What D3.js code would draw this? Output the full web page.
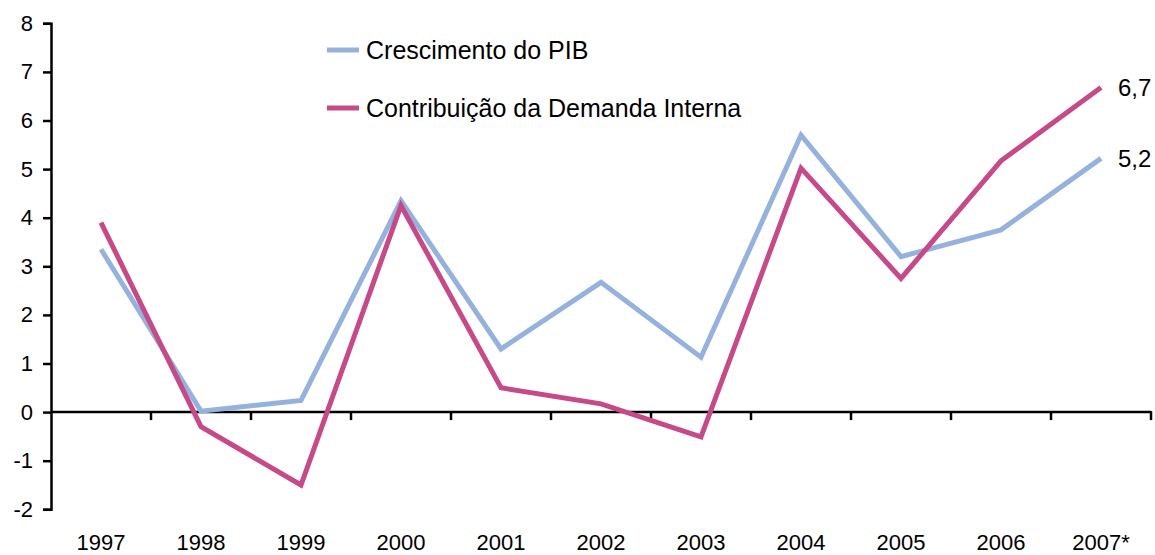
<!DOCTYPE html>
<html>
<head>
<meta charset="utf-8"/>
<script src="https://cdn.jsdelivr.net/npm/d3@7"></script>
<style>
  body { margin: 0; background: #fff; }
  text { font-family: Arial, "Liberation Sans", sans-serif; fill: #000; }
</style>
</head>
<body>
<div id="chart"></div>
<script>
// data
var years = ["1997","1998","1999","2000","2001","2002","2003","2004","2005","2006","2007*"];
var pib = [3.35, 0.02, 0.24, 4.35, 1.3, 2.67, 1.13, 5.7, 3.2, 3.75, 5.22];
var demanda = [3.9, -0.3, -1.5, 4.25, 0.5, 0.17, -0.51, 5.02, 2.75, 5.17, 6.68];
var seriesNames = ["Crescimento do PIB", "Contribuição da Demanda Interna"];
var endLabels = ["5,2", "6,7"];
var yTicks = [-2, -1, 0, 1, 2, 3, 4, 5, 6, 7, 8];

var W = 1155, H = 555;
var colors = ["#95b2de", "#c64a88"];

var svg = d3.select("#chart").append("svg")
    .attr("width", W).attr("height", H);

var x = d3.scaleBand().domain(years).range([51, 1151]);
var y = d3.scaleLinear().domain([-2, 8]).range([509.3, 23.3]);

// y axis
var yAxis = svg.append("g")
    .attr("transform", "translate(51,0)")
    .call(d3.axisLeft(y).tickValues(yTicks).tickSize(8).tickPadding(10).tickFormat(d3.format("d")));
yAxis.select(".domain").attr("stroke", "#000").attr("stroke-width", 2.5);
yAxis.selectAll(".tick line").attr("stroke", "#000").attr("stroke-width", 2.5);
yAxis.selectAll(".tick text").attr("font-size", 22).attr("font-family", "Arial, 'Liberation Sans', sans-serif").attr("fill", "#000")
    .text(function(d){ return d < 0 ? "-" + Math.abs(d) : d; });

// x axis at zero
var xAxis = svg.append("g")
    .attr("transform", "translate(0," + y(0) + ")");
xAxis.append("line")
    .attr("x1", 51).attr("x2", 1151)
    .attr("stroke", "#000").attr("stroke-width", 2.5);
var bounds = years.map(function(d){ return x(d) + x.bandwidth(); });
xAxis.selectAll("line.tk")
    .data(bounds)
  .enter().append("line")
    .attr("class", "tk")
    .attr("x1", d => d).attr("x2", d => d)
    .attr("y1", -1).attr("y2", 8)
    .attr("stroke", "#000").attr("stroke-width", 2.5);

svg.selectAll("text.year")
    .data(years)
  .enter().append("text")
    .attr("class", "year")
    .attr("x", d => x(d) + x.bandwidth() / 2)
    .attr("y", 550)
    .attr("text-anchor", "middle")
    .attr("font-size", 22)
    .text(d => d);

// lines
var line = d3.line()
    .x(function(d, i){ return x(years[i]) + x.bandwidth() / 2; })
    .y(function(d){ return y(d); });

[pib, demanda].forEach(function(s, k){
  svg.append("path")
    .datum(s)
    .attr("d", line)
    .attr("fill", "none")
    .attr("stroke", colors[k])
    .attr("stroke-width", 5)
    .attr("stroke-linejoin", "miter");
});

// end labels
[pib, demanda].forEach(function(s, k){
  svg.append("text")
    .attr("x", 1118)
    .attr("y", y(s[s.length - 1]) + 9)
    .attr("font-size", 24)
    .text(endLabels[k]);
});

// legend
var legY = [50, 108];
seriesNames.forEach(function(n, k){
  svg.append("line")
    .attr("x1", 327).attr("x2", 359)
    .attr("y1", legY[k]).attr("y2", legY[k])
    .attr("stroke", colors[k]).attr("stroke-width", 5);
  svg.append("text")
    .attr("x", 366).attr("y", legY[k] + 9)
    .attr("font-size", 25)
    .text(n);
});
</script>
</body>
</html>
